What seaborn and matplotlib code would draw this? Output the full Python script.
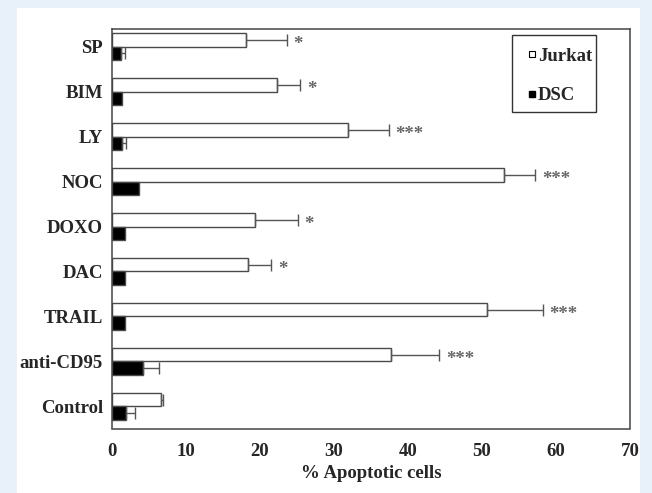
import matplotlib
matplotlib.use("Agg")
import matplotlib.pyplot as plt
from matplotlib.patches import Rectangle
from matplotlib.lines import Line2D
import seaborn as sns
import pandas as pd
import numpy as np

treatments = ["SP", "BIM", "LY", "NOC", "DOXO", "DAC", "TRAIL", "anti-CD95", "Control"]
jurkat = [18.1, 22.3, 31.9, 53.0, 19.3, 18.4, 50.7, 37.7, 6.6]
jurkat_err = [5.5, 3.1, 5.5, 4.2, 5.8, 3.1, 7.5, 6.5, 0.3]
dsc = [1.2, 1.3, 1.35, 3.6, 1.8, 1.8, 1.8, 4.2, 1.9]
dsc_err = [0.5, 0.0, 0.55, 0.0, 0.0, 0.0, 0.0, 2.1, 1.2]
stars = ["*", "*", "***", "***", "*", "*", "***", "***", ""]
cells = ["Jurkat", "DSC"]
xticks = [0, 10, 20, 30, 40, 50, 60, 70]

sns.set_style("white")
plt.rcParams["font.family"] = ["Liberation Serif", "DejaVu Serif"]
plt.rcParams["font.weight"] = "bold"

df = pd.DataFrame({
    "treatment": treatments * 2,
    "value": jurkat + dsc,
    "cell": [cells[0]] * len(treatments) + [cells[1]] * len(treatments),
})

W, H = 652, 493
fig = plt.figure(figsize=(W / 100, H / 100), dpi=100)
fig.patch.set_facecolor("#e8f0fa")
fig.add_artist(Rectangle((17 / W, 0), (640 - 17) / W, (H - 8) / H,
                         transform=fig.transFigure, facecolor="white",
                         edgecolor="none", zorder=0))

AX_L, AX_R, AX_T, AX_B = 112, 630, 29, 428.5
ax = fig.add_axes([AX_L / W, (H - AX_B) / H, (AX_R - AX_L) / W, (AX_B - AX_T) / H])
ax.set_facecolor("white")

def axfx(px):
    return (px - AX_L) / (AX_R - AX_L)

def axfy(py):
    return (AX_B - py) / (AX_B - AX_T)

sns.barplot(data=df, y="treatment", x="value", hue="cell", order=treatments,
            hue_order=cells, orient="h", palette={"Jurkat": "white", "DSC": "black"},
            edgecolor="#4a4a4a", linewidth=1.0, width=0.6, errorbar=None,
            legend=False, ax=ax)

errs = [jurkat_err, dsc_err]
vals = [jurkat, dsc]
bar_conts = list(ax.containers)[:2]
for ci, cont in enumerate(bar_conts):
    for i, bar in enumerate(list(cont.patches)):
        yc = bar.get_y() + bar.get_height() / 2
        e = errs[ci][i]
        v = vals[ci][i]
        if e > 0:
            ax.errorbar(v, yc, xerr=[[0], [e]], fmt="none", ecolor="#555555",
                        elinewidth=1.0, capsize=4.0, capthick=1.0, zorder=3)
        if ci == 0 and stars[i]:
            ax.annotate(stars[i], xy=(v + e, yc), xytext=(5, -6.5),
                        textcoords="offset points", ha="left", va="baseline",
                        fontsize=13.5, color="#666666", fontweight="bold")

ax.set_xlim(0, 70)
ax.set_ylim(8.49, -0.39)
ax.set_xticks(xticks)
ax.set_xticklabels([str(t) for t in xticks])
ax.tick_params(axis="x", direction="in", length=4, width=1, color="#444444",
               pad=10.5, labelsize=13.5)
ax.tick_params(axis="y", length=0, pad=6.5, labelsize=13.5)
for lab in ax.get_xticklabels() + ax.get_yticklabels():
    lab.set_fontweight("bold")
ax.set_ylabel("")
ax.set_xlabel("% Apoptotic cells", fontsize=13.5, fontweight="bold", labelpad=3.5)
for s in ax.spines.values():
    s.set_visible(True)
    s.set_color("#444444")
    s.set_linewidth(1.1)

# legend box
ax.add_patch(Rectangle((axfx(512), axfy(112)), axfx(596) - axfx(512), axfy(35) - axfy(112),
                       transform=ax.transAxes, facecolor="white", edgecolor="#333333",
                       linewidth=1.0, zorder=5))
handles = [
    Line2D([], [], marker="s", linestyle="none", markersize=5,
           markerfacecolor="white", markeredgecolor="black", markeredgewidth=0.8),
    Line2D([], [], marker="s", linestyle="none", markersize=5,
           markerfacecolor="black", markeredgecolor="black"),
]
leg = ax.legend(handles, cells, loc="upper left",
                bbox_to_anchor=(axfx(526.4), axfy(47.5)),
                frameon=False, handlelength=0.6, handletextpad=0.0, labelspacing=1.2,
                borderpad=0.0, borderaxespad=0.0, prop={"weight": "bold", "size": 13.5})
leg.set_zorder(6)

fig.savefig("out.png", dpi=100, facecolor=fig.get_facecolor())
